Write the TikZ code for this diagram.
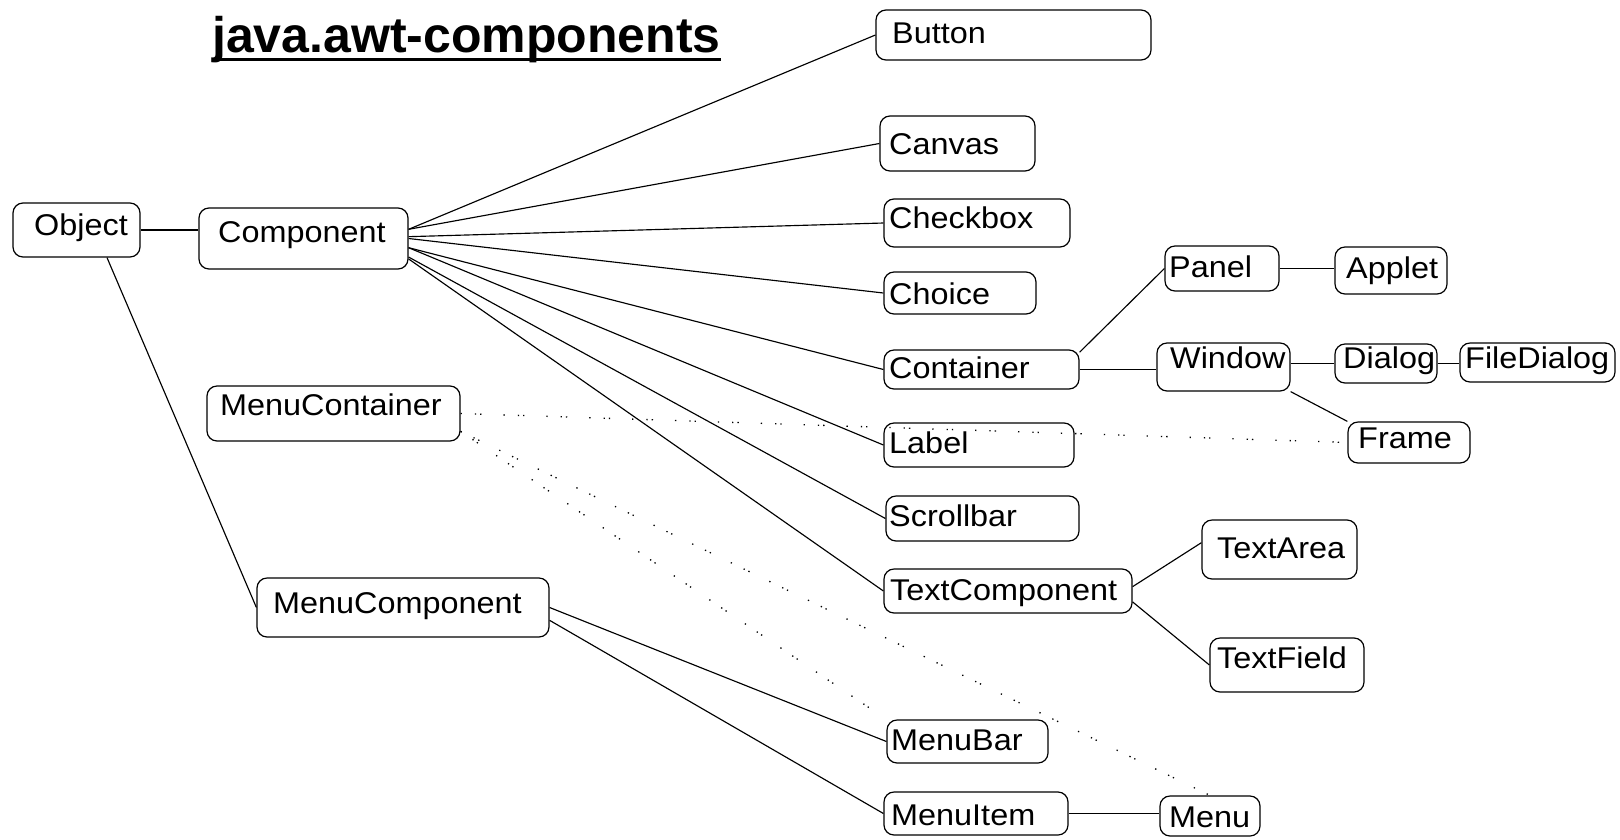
\documentclass[tikz,border=0pt]{standalone}
\usepackage{fontspec}
\newfontfamily\boxfont[FakeStretch=1.08]{Liberation Sans}
\newfontfamily\titlefont{Liberation Sans}
\usetikzlibrary{fit,calc}
\tikzset{
  cls/.style={draw, rounded corners=10pt, line width=1.2pt, inner sep=0pt},
  lbl/.style={inner sep=0pt, anchor=base west, font=\boxfont\fontsize{30}{36}\selectfont},
  link/.style={line width=1.15pt},
  weak/.style={line width=1.3pt, dash pattern=on 1.3pt off 13pt on 1.3pt off 4pt on 1.3pt off 22pt},
}
% class box: name, corner 1, corner 2, label base point, label
\newcommand\clsbox[8]{%
  \coordinate (#1-a) at (#2,#3);
  \coordinate (#1-b) at (#4,#5);
  \node[cls, fit=(#1-a)(#1-b)] (#1) {};
  \node[lbl] (#1-t) at (#6,#7) {#8};
}
\begin{document}
\begin{tikzpicture}[x=1pt,y=-1pt]
\fill[white] (0,0) rectangle (1620,839);
\useasboundingbox (0,0) rectangle (1620,839);

% heading
\node[inner sep=0pt, anchor=base west, font=\titlefont\bfseries\fontsize{50}{58}\selectfont] (title) at (212,52) {java.awt-components};
\draw[line width=2.5pt] ([yshift=-7.5pt]title.base west) -- ([yshift=-7.5pt]title.base east);

% classes
\clsbox{obj}{13}{203}{140}{257}{34}{235}{Object}
\clsbox{comp}{199}{208}{408}{269}{218}{242}{Component}
\clsbox{mcont}{207}{386}{460}{441}{220}{415}{MenuContainer}
\clsbox{mcomp}{257}{578}{549}{637}{273}{613}{MenuComponent}
\clsbox{btn}{876}{10}{1151}{60}{892}{43}{Button}
\clsbox{canvas}{880}{116}{1035}{171}{889}{154}{Canvas}
\clsbox{chk}{884}{199}{1070}{247}{889}{228}{Checkbox}
\clsbox{choice}{884}{272}{1036}{314}{889}{304}{Choice}
\clsbox{cont}{884}{350}{1079}{389}{889}{378}{Container}
\clsbox{label}{884}{423}{1074}{467}{889}{453}{Label}
\clsbox{scroll}{886}{496}{1079}{541}{889}{526}{Scrollbar}
\clsbox{tcomp}{884}{569}{1132}{613}{890}{600}{TextComponent}
\clsbox{mbar}{887}{720}{1048}{763}{891}{750}{MenuBar}
\clsbox{mitem}{884}{792}{1068}{835}{891}{825}{MenuItem}
\clsbox{panel}{1165}{246}{1279}{291}{1169}{277}{Panel}
\clsbox{applet}{1335}{247}{1447}{294}{1346}{278}{Applet}
\clsbox{win}{1157}{343}{1290}{391}{1170}{368}{Window}
\clsbox{dlg}{1335}{344}{1437}{383}{1343}{368}{Dialog}
\clsbox{fdlg}{1460}{343}{1615}{382}{1465}{368}{FileDialog}
\clsbox{frame}{1348}{422}{1470}{463}{1358}{448}{Frame}
\clsbox{tarea}{1202}{520}{1357}{579}{1217}{558}{TextArea}
\clsbox{tfield}{1210}{638}{1364}{692}{1217}{668}{TextField}
\clsbox{menu}{1160}{796}{1260}{836}{1169}{827}{Menu}

% inheritance links
\draw[link] (obj.east) -- (obj.east -| comp.west);
\draw[link] ([xshift=30.5pt]obj.south) -- (mcomp.west);
\draw[link] (comp.5) -- (btn.west);
\draw[link] (comp.5) -- (canvas.west);
\draw[link] (comp.1) -- (chk.west);
\draw[link] (comp.0) -- (choice.west);
\draw[link] (comp.-5) -- (cont.west);
\draw[link] (comp.-5) -- (label.west);
\draw[link] (comp.-10) -- (scroll.west);
\draw[link] (comp.-11) -- (tcomp.west);
\draw[link] (cont.10) -- (panel.west);
\draw[link] (cont.east) -- (cont.east -| win.west);
\draw[link] (panel.east) -- (panel.east -| applet.west);
\draw[link] (dlg.west -| win.east) -- (dlg.west);
\draw[link] (dlg.east) -- (dlg.east -| fdlg.west);
\draw[link] (win.south east) -- (frame.north west);
\draw[link] (tcomp.2) -- (tarea.175);
\draw[link] (tcomp.-5.5) -- (tfield.west);
\draw[link] (mcomp.east) -- (mbar.west);
\draw[link] (mcomp.-5) -- (mitem.west);
\draw[link] (mitem.east) -- (mitem.east -| menu.west);

% menu container relations
\draw[weak] (mcont.east) -- (frame.west);
\draw[weak] (mcont.-8) -- (mbar.north west);
\draw[weak] (mcont.-8) -- (menu.north);
\end{tikzpicture}
\end{document}
